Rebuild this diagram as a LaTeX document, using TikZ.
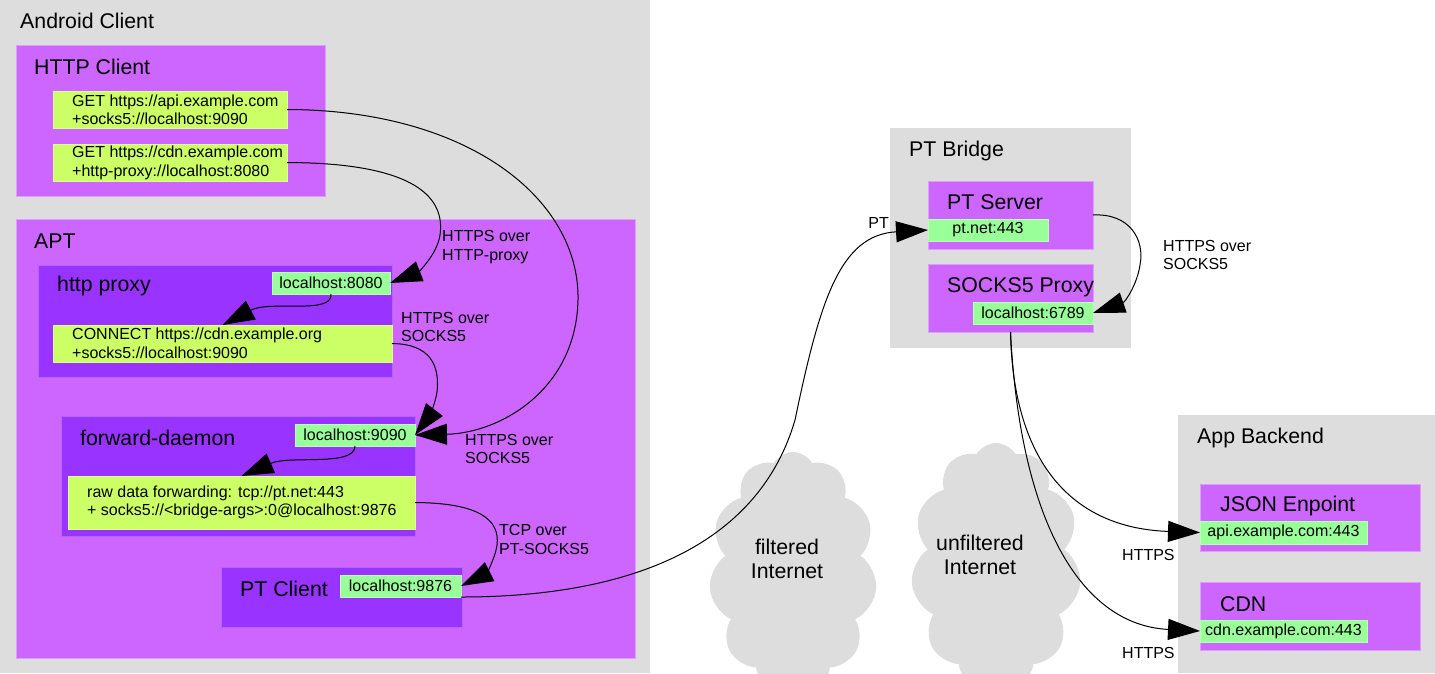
\documentclass[tikz,border=0pt]{standalone}
\usepackage{fontspec}
\setmainfont{Liberation Sans}
\usetikzlibrary{arrows.meta,shapes.symbols}
\definecolor{cgray}{HTML}{DDDDDD}
\definecolor{cpurple}{HTML}{CC66FF}
\definecolor{cdark}{HTML}{9933FF}
\definecolor{cyellow}{HTML}{CCFF66}
\definecolor{cgreen}{HTML}{99FF99}
\begin{document}
\begin{tikzpicture}[x=1pt,y=-1pt,
  box/.style={anchor=north west,inner sep=0pt,outer sep=0pt},
  gbox/.style={box,fill=cgray},
  pbox/.style={box,fill=cpurple,draw=cpurple!65!white,line width=0.8pt},
  dbox/.style={box,fill=cdark,draw=cdark!75!white,line width=0.8pt},
  ybox/.style={box,fill=cyellow,draw=cyellow!70!white,line width=0.6pt},
  port/.style={box,fill=cgreen,draw=cgreen!70!white,line width=0.6pt,font=\fontsize{16}{18.5}\selectfont},
  ttl/.style={anchor=west,inner sep=0pt,font=\fontsize{21.3}{24}\selectfont},
  txt/.style={anchor=west,inner sep=0pt,align=left,font=\fontsize{16}{18.5}\selectfont},
  conn/.style={draw,line width=1pt,-{Triangle[length=32pt,width=21pt]}},
  cld/.style={cloud,cloud puffs=11,cloud puff arc=120,cloud ignores aspect,fill=cgray,inner sep=0pt}
]
\useasboundingbox (0,0) rectangle (1435,673);
% Android client
\node[gbox,minimum width=650pt,minimum height=673pt] (android) at (0,0) {};
\node[ttl] (androidt) at (20,21) {Android Client};
\node[pbox,minimum width=309pt,minimum height=151pt] (httpclient) at (16,45) {};
\node[ttl] (httpclientt) at (34,67) {HTTP Client};
\node[ybox,minimum width=234pt,minimum height=37pt] (apiq) at (53,91) {};
\node[txt] (apiqt) at (72,110) {GET https://api.example.com\\+socks5://localhost:9090};
\node[ybox,minimum width=234pt,minimum height=37pt] (cdnq) at (53,144) {};
\node[txt] (cdnqt) at (72,163) {GET https://cdn.example.com\\+http-proxy://localhost:8080};
% APT
\node[pbox,minimum width=619pt,minimum height=439pt] (apt) at (16,219) {};
\node[ttl] (aptt) at (34,241) {APT};
\node[dbox,minimum width=354pt,minimum height=112pt] (httpproxy) at (38,265) {};
\node[ttl] (httpproxyt) at (57,286) {http proxy};
\node[port,minimum width=118pt,minimum height=22pt] (p8080) at (272,272) {localhost:8080};
\node[ybox,minimum width=339pt,minimum height=37pt] (connect) at (53,325) {};
\node[txt] (connectt) at (72,343.5) {CONNECT https://cdn.example.org\\+socks5://localhost:9090};
\node[dbox,minimum width=354pt,minimum height=120pt] (fwd) at (61,416) {};
\node[ttl] (fwdt) at (80,438) {forward-daemon};
\node[port,minimum width=120pt,minimum height=22pt] (p9090) at (295,424) {localhost:9090};
\node[ybox,minimum width=347pt,minimum height=53pt] (raw) at (68,476) {};
\node[txt] (rawt) at (87,502.5) {raw data forwarding: tcp://pt.net:443\\+ socks5://<bridge-args>:0@localhost:9876};
\node[dbox,minimum width=241pt,minimum height=60pt] (ptclient) at (221,567) {};
\node[ttl] (ptclientt) at (240,589) {PT Client};
\node[port,minimum width=121pt,minimum height=22pt] (p9876) at (340,575) {localhost:9876};
% PT Bridge
\node[gbox,minimum width=241pt,minimum height=220pt] (ptbridge) at (890,128) {};
\node[ttl] (ptbridget) at (909,151) {PT Bridge};
\node[pbox,minimum width=165pt,minimum height=68pt] (ptserver) at (928,181) {};
\node[ttl] (ptservert) at (947,202) {PT Server};
\node[port,minimum width=120pt,minimum height=22pt] (ptnet) at (928,219) {pt.net:443};
\node[pbox,minimum width=165pt,minimum height=68pt] (socksproxy) at (928,264) {};
\node[ttl] (socksproxyt) at (947,287) {SOCKS5 Proxy};
\node[port,minimum width=120pt,minimum height=22pt] (p6789) at (973,302) {localhost:6789};
% App Backend
\node[gbox,minimum width=257pt,minimum height=258pt] (backend) at (1178,415) {};
\node[ttl] (backendt) at (1197,438) {App Backend};
\node[pbox,minimum width=220pt,minimum height=67pt] (json) at (1200,484) {};
\node[ttl] (jsont) at (1220,506) {JSON Enpoint};
\node[port,minimum width=167pt,minimum height=23pt] (apiport) at (1200,521) {api.example.com:443};
\node[pbox,minimum width=220pt,minimum height=68pt] (cdn) at (1200,582) {};
\node[ttl] (cdnt) at (1220,604) {CDN};
\node[port,minimum width=167pt,minimum height=22pt] (cdnport) at (1200,620) {cdn.example.com:443};
% clouds
\node[cld,minimum width=168pt,minimum height=240pt] (filtered) at (793,572) {};
\node[ttl,anchor=center,align=center] (filteredt) at (787,559) {filtered\\Internet};
\node[cld,minimum width=170pt,minimum height=246pt] (unfiltered) at (996,566) {};
\node[ttl,anchor=center,align=center] (unfilteredt) at (980,555) {unfiltered\\Internet};
% edges
\draw[conn] (apiq.east) .. controls (470,110) and (580,200) .. (578,300) .. controls (576,390) and (500,433) .. (p9090.east);
\draw[conn] (cdnq.east) .. controls (420,163) and (445,200) .. (440,235) .. controls (437,255) and (418,272) .. (p8080.east);
\draw[conn] (p8080.south) .. controls (333,315) and (270,300) .. (connect.north);
\draw[conn] (connect.east) .. controls (430,344) and (440,365) .. (437,392) .. controls (435,405) and (428,418) .. (p9090.east);
\draw[conn] (p9090.south) .. controls (355,467) and (290,455) .. (raw.north);
\draw[conn] (raw.east) .. controls (480,503) and (500,520) .. (497,545) .. controls (495,560) and (485,574) .. (p9876.east);
\draw[conn] (p9876.south east) .. controls (640,597) and (760,540) .. (795,420) .. controls (820,300) and (840,235) .. (ptnet.west);
\draw[conn] (ptserver.east) .. controls (1130,213) and (1145,240) .. (1140,265) .. controls (1137,285) and (1125,302) .. (p6789.east);
\draw[conn] (socksproxy.south) .. controls (1013,460) and (1070,528) .. (apiport.west);
\draw[conn] (socksproxy.south) .. controls (1020,520) and (1080,625) .. (cdnport.west);
% edge labels
\node[txt] (l1) at (442,247) {HTTPS over\\HTTP-proxy};
\node[txt] (l2) at (401,327) {HTTPS over\\SOCKS5};
\node[txt] (l3) at (465,449) {HTTPS over\\SOCKS5};
\node[txt] (l4) at (499,539.5) {TCP over\\PT-SOCKS5};
\node[txt,anchor=east] (l5) at (889,223) {PT};
\node[txt] (l6) at (1163,255) {HTTPS over\\SOCKS5};
\node[txt] (l7) at (1122,555) {HTTPS};
\node[txt] (l8) at (1122,653) {HTTPS};
\end{tikzpicture}
\end{document}
